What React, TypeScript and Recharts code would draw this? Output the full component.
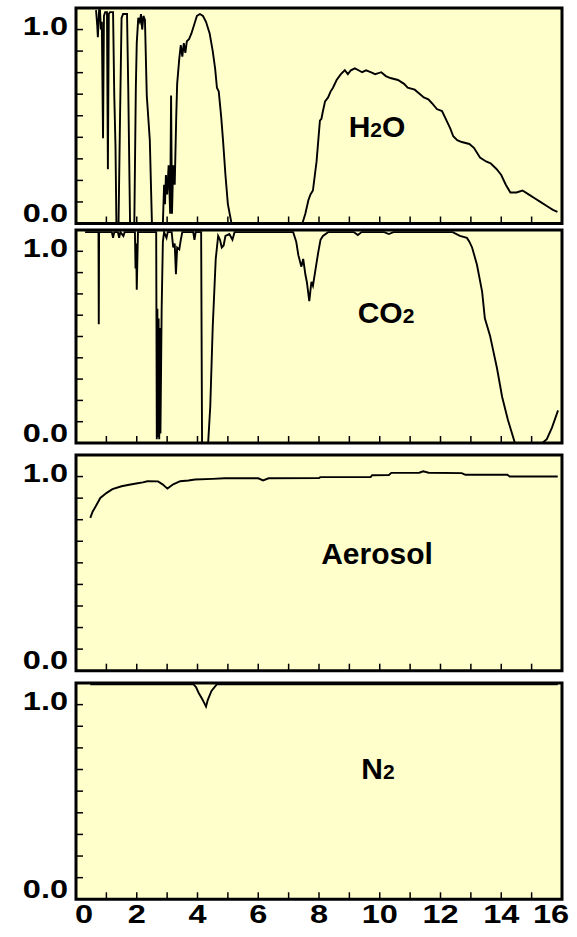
import { CartesianGrid, Line, LineChart, ReferenceArea, XAxis, YAxis } from "recharts";

// wavelength (µm) / transmission
const h2oX = [0.66, 0.7, 0.72, 0.76, 0.79, 0.82, 0.85, 0.89, 0.92, 0.96, 1.02, 1.05, 1.08, 1.12, 1.22, 1.26, 1.3, 1.33, 1.4, 1.45, 1.5, 1.55, 1.68, 1.72, 1.78, 1.92, 1.97, 2.0, 2.05, 2.1, 2.14, 2.18, 2.22, 2.27, 2.33, 2.43, 2.5, 2.86, 2.9, 2.93, 2.96, 3.0, 3.05, 3.1, 3.13, 3.16, 3.2, 3.25, 3.3, 3.33, 3.4, 3.45, 3.5, 3.55, 3.6, 3.65, 3.72, 3.8, 3.9, 3.98, 4.08, 4.18, 4.28, 4.4, 4.5, 4.58, 4.64, 4.7, 4.78, 4.84, 4.92, 5.0, 5.12, 7.45, 7.55, 7.65, 7.72, 7.8, 7.92, 8.03, 8.08, 8.13, 8.2, 8.3, 8.38, 8.46, 8.58, 8.72, 8.85, 8.95, 9.05, 9.18, 9.3, 9.42, 9.55, 9.7, 9.85, 10.05, 10.2, 10.35, 10.6, 10.8, 10.92, 11.15, 11.3, 11.45, 11.6, 11.72, 11.88, 12.05, 12.2, 12.32, 12.42, 12.55, 12.7, 12.95, 13.1, 13.3, 13.5, 13.65, 13.85, 14.0, 14.15, 14.3, 14.5, 14.7, 14.9, 15.1, 15.3, 15.5, 15.7, 15.85];
const h2oY = [1.1, 1.02, 0.96, 1.1, 1.1, 1.0, 1.04, 0.44, 1.07, 1.09, 1.09, 0.28, 1.08, 1.09, 1.09, 0.66, 0.4, 0, 0, 0.55, 1.06, 1.08, 1.08, 0.7, 0, 0, 0.7, 0.93, 1.06, 1.04, 1.08, 1.0, 1.07, 1.05, 0.66, 0.43, 0, 0, 0.2, 0.1, 0.25, 0.15, 0.3, 0.05, 0.66, 0.05, 0.3, 0.2, 0.55, 0.72, 0.85, 0.92, 0.86, 0.93, 0.88, 0.94, 0.95, 0.98, 1.03, 1.07, 1.08, 1.07, 1.04, 0.98, 0.89, 0.8, 0.7, 0.68, 0.55, 0.43, 0.25, 0.1, 0, 0, 0.05, 0.12, 0.15, 0.17, 0.32, 0.53, 0.54, 0.58, 0.63, 0.65, 0.68, 0.7, 0.74, 0.77, 0.79, 0.77, 0.79, 0.8, 0.79, 0.78, 0.79, 0.78, 0.77, 0.78, 0.76, 0.75, 0.74, 0.72, 0.7, 0.69, 0.67, 0.65, 0.64, 0.62, 0.59, 0.58, 0.53, 0.49, 0.45, 0.43, 0.42, 0.41, 0.39, 0.34, 0.32, 0.31, 0.28, 0.25, 0.2, 0.16, 0.16, 0.17, 0.15, 0.13, 0.11, 0.09, 0.07, 0.06];

const co2X = [0.3, 0.74, 0.75, 0.76, 1.18, 1.22, 1.26, 1.38, 1.42, 1.46, 1.56, 1.6, 1.94, 1.96, 1.98, 2.0, 2.02, 2.04, 2.64, 2.66, 2.68, 2.7, 2.72, 2.74, 2.76, 2.78, 2.82, 2.86, 2.9, 2.98, 3.02, 3.15, 3.2, 3.25, 3.29, 3.33, 3.4, 3.45, 3.5, 3.86, 3.9, 3.94, 4.12, 4.15, 4.35, 4.42, 4.5, 4.6, 4.68, 4.74, 4.8, 4.86, 4.92, 5.05, 5.15, 5.22, 7.15, 7.25, 7.32, 7.42, 7.48, 7.55, 7.6, 7.68, 7.75, 7.8, 7.88, 7.97, 8.05, 8.13, 8.3, 9.15, 9.28, 9.4, 10.15, 10.3, 10.45, 12.4, 12.64, 12.87, 12.95, 13.04, 13.2, 13.37, 13.46, 13.63, 13.86, 14.03, 14.22, 14.45, 15.05, 15.35, 15.5, 15.67, 15.87];
const co2Y = [1.1, 1.1, 0.62, 1.1, 1.1, 1.07, 1.1, 1.1, 1.07, 1.1, 1.08, 1.1, 1.1, 0.91, 1.04, 0.8, 0.95, 1.1, 1.1, 0.02, 0.7, 0.03, 0.65, 0.02, 0.6, 0.05, 0.7, 1.05, 1.1, 1.07, 1.1, 1.1, 1.02, 1.04, 0.88, 1.02, 1.01, 1.06, 1.1, 1.1, 1.06, 1.1, 1.1, 0, 0, 0.19, 0.6, 0.96, 1.08, 1.06, 1.02, 1.03, 1.08, 1.09, 1.06, 1.1, 1.1, 1.05, 0.98, 0.92, 0.96, 0.88, 0.84, 0.74, 0.84, 0.82, 0.9, 0.99, 1.06, 1.08, 1.1, 1.1, 1.085, 1.1, 1.1, 1.09, 1.1, 1.1, 1.08, 1.07, 1.05, 1.02, 0.93, 0.79, 0.65, 0.56, 0.39, 0.24, 0.12, 0, 0, 0, 0.02, 0.08, 0.17];

const aerosolX = [0.47, 0.55, 0.65, 0.8, 1.01, 1.2, 1.5, 1.75, 1.98, 2.2, 2.35, 2.7, 2.85, 3.01, 3.2, 3.43, 3.7, 3.92, 4.5, 4.89, 6.0, 6.16, 6.34, 8.0, 8.04, 9.7, 9.75, 10.3, 10.38, 11.3, 11.43, 11.61, 12.7, 12.82, 14.2, 14.28, 15.86];
const aerosolY = [0.787, 0.82, 0.847, 0.89, 0.916, 0.935, 0.95, 0.958, 0.964, 0.97, 0.976, 0.975, 0.96, 0.938, 0.96, 0.976, 0.98, 0.985, 0.988, 0.991, 0.991, 0.98, 0.991, 0.992, 0.997, 0.997, 1.007, 1.008, 1.019, 1.02, 1.027, 1.02, 1.018, 1.009, 1.009, 1.0, 1.0];

const n2X = [0.47, 3.86, 3.95, 4.04, 4.15, 4.22, 4.28, 4.34, 4.46, 4.64, 15.86];
const n2Y = [1.105, 1.105, 1.09, 1.06, 1.03, 1.009, 0.99, 1.025, 1.07, 1.105, 1.105];

const xTicks = [0, 1, 2, 3, 4, 5, 6, 7, 8, 9, 10, 11, 12, 13, 14, 15, 16];
const xLabels = ["0", "2", "4", "6", "8", "10", "12", "14", "16"];
const yTicks = [0, 0.1111, 0.2222, 0.3333, 0.4444, 0.5556, 0.6667, 0.7778, 0.8889, 1];
const yLabels = ["0.0", "1.0"];
const yMax = 1.1111;

const font = "'Liberation Sans', Arial, sans-serif";

function zip(xs: number[], ys: number[]) {
  return xs.map((x, i) => ({ x, y: ys[i] }));
}

const panels = [
  { key: "h2o", top: 8, bottom: 223.5, data: zip(h2oX, h2oY), main: "H", sub: "2", tail: "O", lx: 377, ly: 137 },
  { key: "co2", top: 229.5, bottom: 442.5, data: zip(co2X, co2Y), main: "CO", sub: "2", tail: "", lx: 386, ly: 323 },
  { key: "aer", top: 455, bottom: 670.7, data: zip(aerosolX, aerosolY), main: "Aerosol", sub: "", tail: "", lx: 377, ly: 564 },
  { key: "n2", top: 683, bottom: 899.3, data: zip(n2X, n2Y), main: "N", sub: "2", tail: "", lx: 378, ly: 779 }
];

function XTick(props: any) {
  const { x, y, payload, showLabel } = props;
  const v = payload.value;
  const label = showLabel && v % 2 === 0 ? xLabels[v / 2] : null;
  const shift = v === 0 ? 8 : v === 16 ? -11 : 0;
  return (
    <g>
      {v > 0 && v < 16 && <line x1={x} y1={y} x2={x} y2={y - 7} stroke="#000" strokeWidth={1.5} />}
      {label && (
        <text
          transform={`translate(${x + shift},${y + 24}) scale(1.3,1)`}
          textAnchor="middle"
          fontSize={25}
          fontWeight="bold"
          fontFamily={font}
          fill="#000"
        >
          {label}
        </text>
      )}
    </g>
  );
}

function YTick(props: any) {
  const { x, y, payload } = props;
  const v = payload.value;
  const label = v === 0 ? yLabels[0] : v === 1 ? yLabels[1] : null;
  const base = v === 0 ? y - 1.5 : y + 5.5;
  return (
    <g>
      {v > 0 && <line x1={x} y1={y} x2={x + 7} y2={y} stroke="#000" strokeWidth={1.5} />}
      {label && (
        <text
          transform={`translate(${x - 8},${base}) scale(1.3,1)`}
          textAnchor="end"
          fontSize={25}
          fontWeight="bold"
          fontFamily={font}
          fill="#000"
        >
          {label}
        </text>
      )}
    </g>
  );
}

function Panel({ p, last }: { p: (typeof panels)[number]; last: boolean }) {
  const xh = last ? 40 : 1;
  const h = 4 + (p.bottom - p.top) + xh + 4;
  return (
    <div style={{ position: "absolute", left: 0, top: p.top - 4 }}>
      <LineChart width={577} height={h} data={p.data} margin={{ top: 4, right: 15, bottom: 4, left: 0 }}>
        <CartesianGrid fill="#FFFFCC" horizontal={false} vertical={false} />
        <XAxis
          dataKey="x"
          type="number"
          domain={[0, 16]}
          ticks={xTicks}
          interval={0}
          height={xh}
          tickSize={0}
          tickMargin={0}
          tickLine={false}
          axisLine={false}
          tick={(t: any) => <XTick {...t} showLabel={last} />}
        />
        <YAxis
          type="number"
          domain={[0, yMax]}
          ticks={yTicks}
          interval={0}
          width={76}
          tickSize={0}
          tickMargin={0}
          tickLine={false}
          axisLine={false}
          tick={(t: any) => <YTick {...t} />}
        />
        <Line type="linear" dataKey="y" stroke="#000" strokeWidth={1.9} dot={false} isAnimationActive={false} />
        <ReferenceArea x1={0} x2={16} y1={0} y2={yMax} fill="none" stroke="#000" strokeWidth={3} ifOverflow="visible" />
      </LineChart>
    </div>
  );
}

export default function App() {
  return (
    <div style={{ position: "absolute", left: 0, top: 0, width: 577, height: 937, background: "#fff" }}>
      {panels.map((p, i) => (
        <Panel key={p.key} p={p} last={i === panels.length - 1} />
      ))}
      <svg width={577} height={937} style={{ position: "absolute", left: 0, top: 0, pointerEvents: "none" }}>
        {panels.map((p) => (
          <text key={p.key} x={p.lx} y={p.ly} textAnchor="middle" fontSize={30} fontWeight="bold" fontFamily={font} fill="#000">
            {p.main}
            {p.sub && <tspan fontSize={21}>{p.sub}</tspan>}
            {p.tail}
          </text>
        ))}
      </svg>
    </div>
  );
}
